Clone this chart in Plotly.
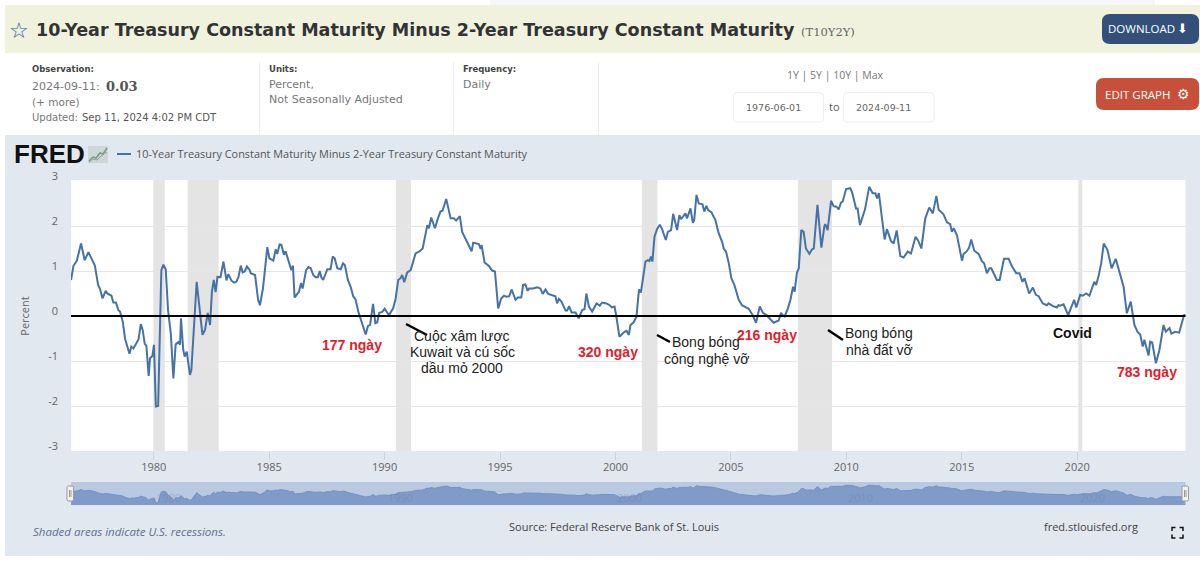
import plotly.graph_objects as go

W, H = 1200, 563

obs_year = [
1976.42,1976.44,1976.52,1976.67,1976.85,1977.01,1977.17,1977.30,1977.45,1977.59,1977.68,1977.78,1977.92,1977.99,
1978.17,1978.25,1978.36,1978.47,1978.54,1978.66,1978.76,1978.95,1979.03,1979.12,1979.34,1979.44,1979.52,1979.61,
1979.68,1979.78,1979.84,1979.94,1980.01,1980.09,1980.19,1980.33,1980.42,1980.52,1980.62,1980.74,1980.85,1980.95,
1981.07,1981.14,1981.18,1981.28,1981.34,1981.43,1981.57,1981.63,1981.86,1982.11,1982.22,1982.34,1982.44,1982.52,
1982.60,1982.68,1982.76,1982.89,1983.02,1983.15,1983.23,1983.36,1983.48,1983.58,1983.67,1983.77,1983.85,1983.94,
1984.04,1984.16,1984.20,1984.39,1984.52,1984.60,1984.73,1984.92,1985.01,1985.18,1985.28,1985.35,1985.45,1985.53,
1985.64,1985.71,1985.89,1985.96,1986.03,1986.10,1986.29,1986.38,1986.45,1986.60,1986.70,1986.80,
1986.91,1987.01,1987.11,1987.19,1987.26,1987.34,1987.52,1987.66,1987.75,1987.84,1987.95,1988.10,1988.20,1988.28,
1988.41,1988.53,1988.64,1988.74,1988.86,1988.96,1989.18,1989.28,1989.37,1989.50,1989.60,1989.68,1989.77,1989.90,
1990.00,1990.19,1990.37,1990.48,1990.59,1990.69,1990.76,1990.85,1990.98,1991.13,1991.34,1991.49,1991.65,1991.85,
1991.92,1992.02,1992.18,1992.31,1992.42,1992.51,1992.67,1992.86,1993.00,1993.10,1993.26,1993.36,1993.58,1993.77,
1993.84,1994.08,1994.16,1994.20,1994.33,1994.52,1994.66,1994.78,1994.92,1995.05,1995.17,1995.28,1995.40,1995.50,
1995.67,1995.77,1995.92,1996.00,1996.10,1996.19,1996.26,1996.43,1996.61,1996.75,1996.85,1996.97,1997.09,1997.19,
1997.40,1997.47,1997.55,1997.66,1997.84,1997.91,1997.99,1998.10,1998.27,1998.41,1998.56,1998.66,1998.74,1998.85,
1998.99,1999.18,1999.32,1999.42,1999.61,1999.75,1999.84,1999.96,2000.03,2000.17,2000.39,2000.48,2000.58,2000.65,
2000.79,2000.91,2000.97,2001.02,2001.10,2001.30,2001.40,2001.47,2001.54,2001.60,2001.69,2001.80,2001.92,2002.02,
2002.18,2002.27,2002.41,2002.50,2002.67,2002.77,2002.84,2003.03,2003.10,2003.25,2003.35,2003.41,2003.51,2003.61,
2003.77,2003.85,2003.94,2004.01,2004.16,2004.33,2004.47,2004.62,2004.69,2004.79,2004.91,2005.02,2005.15,2005.34,
2005.48,2005.63,2005.77,2005.92,2006.09,2006.25,2006.39,2006.54,2006.71,2006.85,2007.07,2007.17,2007.24,2007.33,
2007.47,2007.58,2007.69,2007.76,2007.86,2007.94,2008.05,2008.15,2008.25,2008.40,2008.51,2008.59,2008.75,2008.92,
2009.05,2009.09,2009.19,2009.34,2009.45,2009.57,2009.67,2009.77,2009.84,2009.99,2010.17,2010.26,2010.42,2010.49,
2010.59,2010.81,2010.99,2011.14,2011.26,2011.33,2011.41,2011.50,2011.66,2011.76,2011.93,2012.05,2012.18,2012.34,
2012.48,2012.66,2012.80,2013.00,2013.12,2013.25,2013.42,2013.59,2013.75,2013.90,2014.00,2014.21,2014.36,2014.50,
2014.57,2014.65,2014.79,2015.01,2015.08,2015.22,2015.32,2015.41,2015.54,2015.73,2015.87,2015.97,2016.09,2016.20,
2016.28,2016.52,2016.64,2016.83,2017.03,2017.17,2017.36,2017.50,2017.63,2017.72,2017.92,
2018.08,2018.21,2018.33,2018.51,2018.69,2018.76,2018.95,2019.12,2019.19,2019.26,2019.41,2019.61,2019.74,2019.87,
2019.96,2020.13,2020.24,2020.39,2020.53,2020.74,2020.82,2020.92,2021.04,2021.15,2021.31,2021.49,2021.67,2021.83,
2022.01,2022.15,2022.32,2022.48,2022.61,2022.73,2022.84,2022.91,2023.09,2023.16,2023.25,2023.41,2023.56,2023.74,
2023.84,2024.00,2024.08,2024.24,2024.42,2024.53,2024.63,2024.69,
]
obs_value = [
0.80,0.87,1.11,1.23,1.61,1.24,1.42,1.28,1.12,0.69,0.59,0.39,0.56,0.50,
0.45,0.30,0.30,0.13,0.10,-0.13,-0.51,-0.84,-0.68,-0.72,-0.52,-0.18,-0.31,-0.62,
-0.66,-1.33,-0.94,-0.89,-0.64,-2.01,-2.00,1.02,1.14,1.04,0.13,-0.39,-1.39,-0.63,
-0.58,-0.64,-0.05,-0.76,-0.90,-0.79,-1.31,-1.20,0.76,-0.42,-0.31,0.07,-0.20,0.54,
0.80,0.53,0.87,0.86,1.21,0.79,0.93,0.79,0.74,0.76,0.87,1.12,0.97,0.99,
1.10,1.02,0.95,0.91,0.36,0.24,0.61,1.53,1.28,1.23,1.48,1.38,1.59,1.58,
1.36,1.44,1.10,1.02,1.12,0.41,0.54,0.73,0.61,1.02,1.09,1.06,
0.91,0.86,0.86,1.00,0.86,0.80,1.04,1.04,1.32,1.28,1.06,1.04,1.17,1.13,
0.80,0.65,0.44,0.37,0.10,-0.05,-0.41,-0.22,-0.20,0.27,-0.16,-0.14,0.07,0.09,
0.16,0.02,0.17,0.39,0.80,0.84,0.91,0.75,0.97,1.02,1.39,1.43,1.50,2.02,
1.95,2.19,1.95,2.17,2.32,2.34,2.60,2.17,2.17,2.12,2.22,1.87,1.65,1.44,
1.63,1.60,1.49,1.58,1.19,1.11,1.01,0.99,0.17,0.39,0.45,0.43,0.44,0.59,
0.36,0.41,0.41,0.69,0.70,0.56,0.61,0.61,0.64,0.61,0.49,0.59,0.49,0.47,
0.44,0.28,0.38,0.32,0.12,0.12,0.22,0.08,0.08,-0.05,0.13,0.15,0.50,0.21,
0.10,0.28,0.23,0.30,0.28,0.24,0.19,0.21,0.02,-0.46,-0.35,-0.33,-0.42,-0.20,
-0.14,-0.01,0.28,0.59,0.52,1.21,1.24,1.22,1.32,1.21,1.76,1.93,2.03,1.93,
1.69,1.87,1.91,2.27,1.91,2.24,2.15,2.28,2.17,2.39,2.07,2.13,2.69,2.50,
2.48,2.32,2.45,2.36,2.30,2.13,1.84,1.65,1.50,1.43,1.17,0.84,0.69,0.36,
0.24,0.19,0.16,0.04,-0.15,0.21,0.07,0.02,-0.07,-0.15,-0.10,0.07,0.02,-0.01,
0.17,0.36,0.65,0.54,0.96,1.06,1.91,1.87,1.50,1.38,1.48,1.50,2.47,1.52,
2.00,2.04,1.91,2.56,2.44,2.43,2.37,2.52,2.54,2.82,2.84,2.73,2.39,2.39,
2.02,2.37,2.87,2.73,2.73,2.61,2.73,2.39,1.70,1.93,1.67,1.61,1.90,1.33,
1.30,1.43,1.39,1.76,1.67,1.50,2.17,2.41,2.28,2.67,2.36,2.26,2.08,2.04,
1.87,1.95,1.80,1.23,1.38,1.44,1.52,1.70,1.45,1.38,1.22,1.17,0.95,1.06,
1.06,0.80,0.80,1.27,1.27,1.11,0.95,0.95,0.76,0.84,0.50,
0.63,0.47,0.44,0.28,0.24,0.28,0.22,0.19,0.24,0.23,0.26,0.02,0.19,0.36,
0.19,0.47,0.45,0.50,0.45,0.76,0.69,0.87,1.17,1.61,1.47,1.06,1.27,0.95,
0.65,0.06,0.32,-0.20,-0.35,-0.41,-0.68,-0.53,-0.88,-0.57,-0.59,-1.05,-0.76,-0.20,
-0.35,-0.27,-0.39,-0.35,-0.37,-0.16,0.02,0.03,
]
recession_start = [1979.98, 1981.47, 1990.49, 2001.14, 2007.90, 2020.05]
recession_end = [1980.48, 1982.81, 1991.14, 2001.82, 2009.38, 2020.22]
navigator_floor = [-2.6] * len(obs_year)
y_ticks = [-3, -2, -1, 0, 1, 2, 3]
x_ticks = [1980, 1985, 1990, 1995, 2000, 2005, 2010, 2015, 2020]
nav_labels = [("1980", 168), ("1990", 400), ("2000", 629), ("2010", 860), ("2020", 1092)]

SERIES_NAME = "10-Year Treasury Constant Maturity Minus 2-Year Treasury Constant Maturity"
BLUE = "#4572a7"
OS = "Open Sans"
DJ = "DejaVu Sans"
LB = "Liberation Sans"


def fx(px):
    return px / W


def fy(py):
    return 1 - py / H


def rect(x0, y0, x1, y1, fill, line=None, layer="below"):
    return dict(type="rect", xref="paper", yref="paper", x0=fx(x0), x1=fx(x1), y0=fy(y1), y1=fy(y0),
                fillcolor=fill, line=dict(color=line or fill, width=1 if line else 0), layer=layer)


def rrect(x0, y0, x1, y1, r, fill, line=None, layer="below"):
    def p(a, b):
        return f"{fx(a):.5f},{fy(b):.5f}"
    path = (f"M{p(x0+r,y0)} L{p(x1-r,y0)} Q{p(x1,y0)} {p(x1,y0+r)} L{p(x1,y1-r)} Q{p(x1,y1)} {p(x1-r,y1)} "
            f"L{p(x0+r,y1)} Q{p(x0,y1)} {p(x0,y1-r)} L{p(x0,y0+r)} Q{p(x0,y0)} {p(x0+r,y0)} Z")
    return dict(type="path", xref="paper", yref="paper", path=path, fillcolor=fill,
                line=dict(color=line or fill, width=1 if line else 0), layer=layer)


def seg(x0, y0, x1, y1, color="black", width=2, layer="above"):
    return dict(type="line", xref="paper", yref="paper", x0=fx(x0), x1=fx(x1), y0=fy(y0), y1=fy(y1),
                line=dict(color=color, width=width), layer=layer)


def poly(points, color, width=1.5, layer="above"):
    path = "M" + " L".join(f"{fx(a):.5f},{fy(b):.5f}" for a, b in points)
    return dict(type="path", xref="paper", yref="paper", path=path, line=dict(color=color, width=width), layer=layer)


def txt(x, y, s, size=11, color="#555", font=OS, anchor="left", bold=False, italic=False):
    return dict(xref="paper", yref="paper", x=fx(x), y=fy(y), text=s, showarrow=False, xanchor=anchor,
                yanchor="middle", borderpad=0, borderwidth=0,
                font=dict(size=size, color=color, family=font, weight="bold" if bold else "normal",
                          style="italic" if italic else "normal"))


shapes = [
    rect(490, 0, 1155, 5, "#f5f6fa"),
    rect(5, 5, 1200, 53, "#f0f2dd"),
    rect(5, 135, 1200, 556, "#e1e8f0"),
    rect(71, 180, 1185.5, 451, "white"),
    rect(71, 482, 1185.5, 505, "#b9c9e2"),
    rrect(1102, 14, 1199, 44, 8, "#33507a"),
    rrect(1096, 78, 1199, 110, 8, "#c6503a"),
    rrect(733.5, 92.5, 823.5, 122, 4, "white", "#eceef0"),
    rrect(843.5, 92.5, 934, 122, 4, "white", "#eceef0"),
    seg(259.5, 62, 259.5, 135, "#e6edf4", 1, "below"),
    seg(453.5, 62, 453.5, 135, "#e6edf4", 1, "below"),
    seg(598.5, 62, 598.5, 135, "#e6edf4", 1, "below"),
    seg(117, 154, 131, 154, BLUE, 2),
    # FRED logo chart icon
    rect(88, 146, 108, 163, "#cfd6d8"),
    poly([(89, 161), (93, 157), (96, 158), (100, 153), (103, 154), (107, 148)], "#7f9f7a", 1.5),
    poly([(89, 162), (93, 159), (97, 160), (101, 156), (107, 152)], "#8f9aa5", 1),
    # annotation strokes
    seg(406, 324, 427, 335, width=2.5),
    seg(657, 335, 670, 342, width=2.5),
    seg(828, 330, 843, 340, width=2.5),
    # navigator handles
    rrect(67, 486, 73.5, 501, 1.5, "#f2f2f2", "#999", "above"),
    rrect(1182, 486, 1188.5, 501, 1.5, "#f2f2f2", "#999", "above"),
    seg(69.5, 490, 69.5, 497, "#999", 1),
    seg(71, 490, 71, 497, "#999", 1),
    seg(1184.5, 490, 1184.5, 497, "#999", 1),
    seg(1186, 490, 1186, 497, "#999", 1),
    # fullscreen icon
    poly([(1172, 531), (1172, 527.5), (1175.5, 527.5)], "#111", 1.5),
    poly([(1179.5, 527.5), (1183, 527.5), (1183, 531)], "#111", 1.5),
    poly([(1172, 534.5), (1172, 538), (1175.5, 538)], "#111", 1.5),
    poly([(1179.5, 538), (1183, 538), (1183, 534.5)], "#111", 1.5),
]
for a, b in zip(recession_start, recession_end):
    shapes.append(dict(type="rect", xref="x", yref="y domain", x0=a, x1=b, y0=0, y1=1.004,
                       fillcolor="#e4e4e4", line=dict(width=0), layer="below"))
# black zero reference line over the series
shapes.append(dict(type="line", xref="x domain", yref="y", x0=0, x1=1, y0=0, y1=0,
                   line=dict(color="black", width=2), layer="above"))

annotations = [
    txt(9, 30, "☆", 22, "#2a5a9c", DJ),
    txt(36, 30, SERIES_NAME, 17.55, "#333", DJ, bold=True),
    txt(801, 32, "(T10Y2Y)", 11.5, "#666", "DejaVu Serif"),
    txt(1108, 29, "DOWNLOAD", 11.5, "white", OS),
    txt(1177, 29, "⬇", 13, "white", DJ),
    txt(1105, 94, "EDIT GRAPH", 11.5, "white", OS),
    txt(1177, 94, "⚙", 14, "white", DJ),
    txt(32, 69, "Observation:", 8.5, "#444", DJ, bold=True),
    txt(32, 86, "2024-09-11:", 11, "#777", DJ),
    txt(106, 86, "0.03", 13, "#555", "DejaVu Serif", bold=True),
    txt(32, 102, "(+ more)", 10.5, "#777", DJ),
    txt(32, 117.5, "Updated:", 10, "#777", DJ),
    txt(82, 117.5, "Sep 11, 2024 4:02 PM CDT", 10, "#555", DJ),
    txt(268.5, 69, "Units:", 8.5, "#444", DJ, bold=True),
    txt(268.5, 84, "Percent,", 11, "#777", DJ),
    txt(268.5, 99.5, "Not Seasonally Adjusted", 11, "#777", DJ),
    txt(463, 69, "Frequency:", 8.5, "#444", DJ, bold=True),
    txt(463, 84, "Daily", 11, "#777", DJ),
    txt(835, 74.5, "1Y | 5Y | 10Y | Max", 10.5, "#777", OS, "center"),
    txt(773.5, 107.5, "1976-06-01", 9.5, "#666", DJ, "center"),
    txt(883.5, 107.5, "2024-09-11", 9.5, "#666", DJ, "center"),
    txt(834.5, 106, "to", 11, "#555", OS, "center"),
    txt(14, 154, "FRED", 26, "#111", LB, bold=True),
    txt(136, 154, SERIES_NAME, 10.9, "#555", OS),
    txt(33, 531, "Shaded areas indicate U.S. recessions.", 11.5, "#5f6f92", OS, italic=True),
    txt(614, 526, "Source: Federal Reserve Bank of St. Louis", 11, "#444", OS, "center"),
    txt(1091, 526, "fred.stlouisfed.org", 11, "#444", OS, "center"),
    txt(352, 345, "177 ngày", 14, "#e2202c", LB, "center", True),
    txt(608, 352, "320 ngày", 14, "#e2202c", LB, "center", True),
    txt(767, 335, "216 ngày", 14, "#e2202c", LB, "center", True),
    txt(1147, 372, "783 ngày", 14, "#e2202c", LB, "center", True),
    txt(1072, 333, "Covid", 14, "#111", LB, "center", True),
    txt(462, 336, "Cuộc xâm lược", 14, "#222", LB, "center"),
    txt(462, 352, "Kuwait và cú sốc", 14, "#222", LB, "center"),
    txt(462, 368, "dầu mỏ 2000", 14, "#222", LB, "center"),
    txt(706, 342, "Bong bóng", 14, "#222", LB, "center"),
    txt(706, 359, "công nghệ vỡ", 14, "#222", LB, "center"),
    txt(879, 333, "Bong bóng", 14, "#222", LB, "center"),
    txt(880, 350, "nhà đất vỡ", 14, "#222", LB, "center"),
]
for s, x in nav_labels:
    annotations.append(txt(x, 497, s, 11, "rgba(110,120,140,0.35)", OS, "center"))

fig = go.Figure()
fig.add_trace(go.Scatter(x=obs_year, y=obs_value, mode="lines", line=dict(color=BLUE, width=2),
                         xaxis="x", yaxis="y", hoverinfo="skip", showlegend=False))
fig.add_trace(go.Scatter(x=obs_year, y=navigator_floor, mode="lines", line=dict(width=0),
                         xaxis="x2", yaxis="y2", hoverinfo="skip", showlegend=False))
fig.add_trace(go.Scatter(x=obs_year, y=obs_value, mode="lines", fill="tonexty", fillcolor="#7e9bc9",
                         line=dict(color="#7592c2", width=1), xaxis="x2", yaxis="y2",
                         hoverinfo="skip", showlegend=False))

x_dom = [fx(71), fx(1185.5)]
x_rng = [1976.416, 2024.692]
fig.update_layout(
    template="none",
    width=W, height=H, margin=dict(l=0, r=0, t=0, b=0, pad=0, autoexpand=False),
    paper_bgcolor="white", plot_bgcolor="rgba(0,0,0,0)", showlegend=False,
    shapes=shapes, annotations=annotations,
    xaxis=dict(domain=x_dom, range=x_rng, tickmode="array", tickvals=x_ticks, ticktext=[str(v) for v in x_ticks],
               ticks="outside", ticklen=8, tickcolor="#c8d3df", tickwidth=1, showgrid=False, zeroline=False,
               showline=False, fixedrange=True, anchor="y", automargin=False, ticklabelstandoff=-2,
               tickfont=dict(family=OS, size=11, color="#666")),
    yaxis=dict(domain=[fy(451), fy(181)], range=[-3, 3], tickmode="array", tickvals=y_ticks,
               ticktext=[str(v) for v in y_ticks], ticks="", showgrid=True, gridcolor="#e6e6e6", gridwidth=1,
               zeroline=False, showline=False, fixedrange=True, anchor="x", ticklabelshift=-5, ticklabelstandoff=12,
               automargin=False, tickfont=dict(family=OS, size=11, color="#666"),
               title=dict(text="Percent", font=dict(family=OS, size=11, color="#666"), standoff=16)),
    xaxis2=dict(domain=x_dom, range=x_rng, visible=False, fixedrange=True, anchor="y2", automargin=False),
    yaxis2=dict(domain=[fy(505), fy(482)], range=[-2.6, 3.69], visible=False, fixedrange=True, anchor="x2",
                automargin=False),
)

fig.write_html("out.html", config=dict(displayModeBar=False, staticPlot=True),
               post_script="document.body.style.margin='0';document.body.style.overflow='hidden';")
